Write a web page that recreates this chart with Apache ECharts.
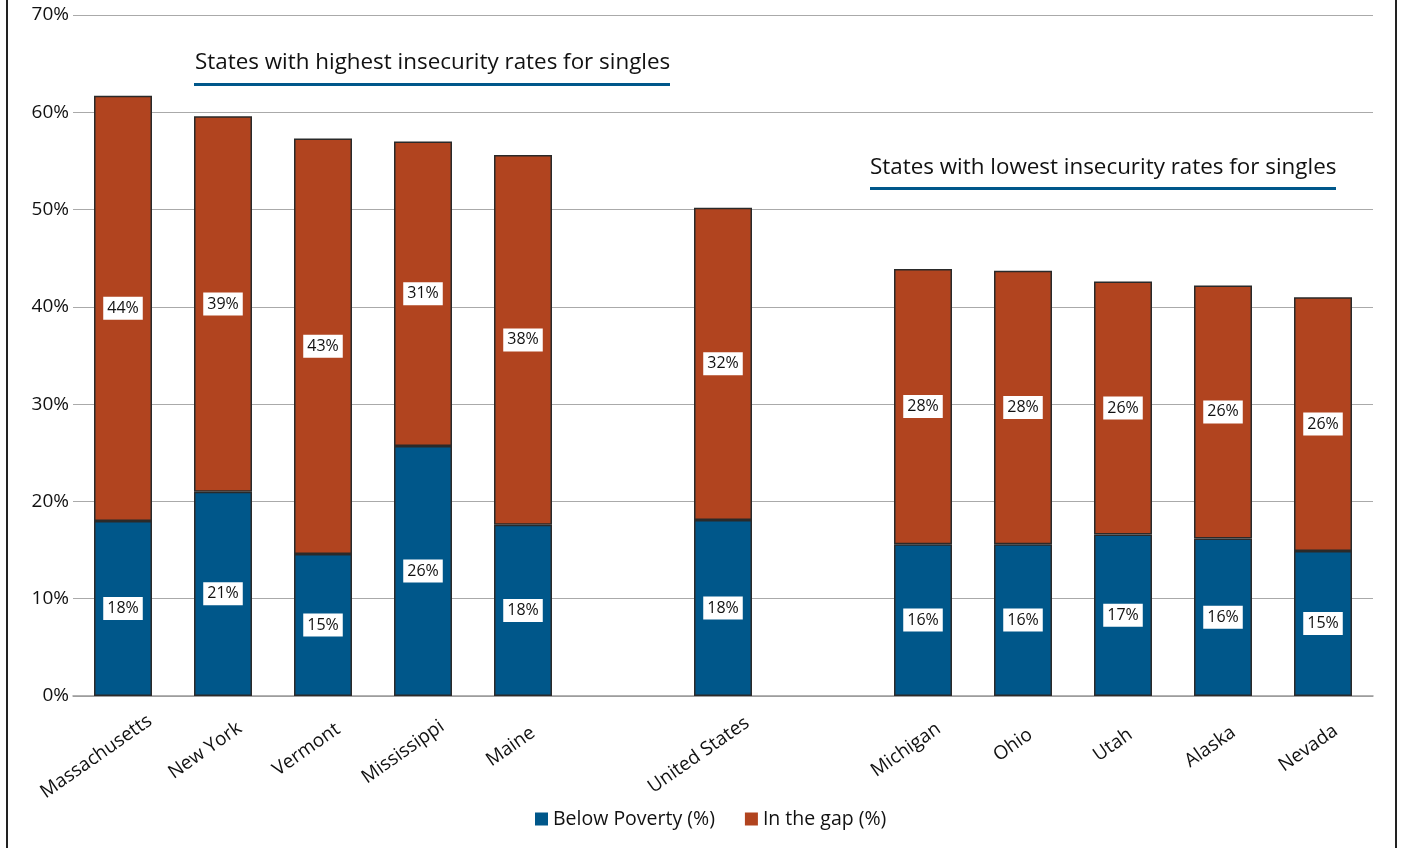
<!DOCTYPE html>
<html>
<head>
<meta charset="utf-8">
<script src="https://cdn.jsdelivr.net/npm/echarts@6/dist/echarts.min.js"></script>
<style>
html,body{margin:0;padding:0;background:#fff;}
#chart{width:1401px;height:848px;}
</style>
</head>
<body>
<div id="chart"></div>
<script>
const categories = ['Massachusetts','New York','Vermont','Mississippi','Maine','','United States','','Michigan','Ohio','Utah','Alaska','Nevada'];
const belowPoverty = [18.0, 21.0, 14.6, 25.7, 17.6, null, 18.1, null, 15.6, 15.6, 16.6, 16.2, 14.9];
const inTheGap = [43.7, 38.6, 42.7, 31.3, 38.0, null, 32.1, null, 28.3, 28.1, 26.0, 26.0, 26.1];
const yTicks = [0, 10, 20, 30, 40, 50, 60, 70];
const seriesNames = ['Below Poverty (%)', 'In the gap (%)'];
const groupTitles = ['States with highest insecurity rates for singles', 'States with lowest insecurity rates for singles'];

const FONT = 'Open Sans';
const BLUE = '#00578a';
const ORANGE = '#b1441f';
const X_FONT_SIZE = 19;

// Spreadsheet-style rotated labels: longer labels sit further along their own direction
const ctx = document.createElement('canvas').getContext('2d');
ctx.font = X_FONT_SIZE + 'px "' + FONT + '"';
const xAxisData = categories.map(c => {
  const w = ctx.measureText(c).width;
  const shift = Math.max(0, 0.27 * w - 2.4);
  return {value: c, textStyle: {padding: [0, -shift, 0, 0]}};
});

const chart = echarts.init(document.getElementById('chart'));
const labelCfg = {
  show: true,
  position: 'inside',
  formatter: p => (p.value == null ? '' : Math.round(p.value) + '%'),
  backgroundColor: '#fff',
  color: '#111',
  fontFamily: FONT,
  fontSize: 16,
  lineHeight: 18,
  padding: [3, 4, 2, 4]
};
chart.setOption({
  animation: false,
  textStyle: {fontFamily: FONT},
  grid: {left: 73, right: 28, top: 15, bottom: 152, containLabel: false},
  xAxis: {
    type: 'category',
    data: xAxisData,
    axisLine: {lineStyle: {color: '#999', width: 1.5}},
    axisTick: {show: false},
    axisLabel: {interval: 0, rotate: 35, color: '#111', fontSize: X_FONT_SIZE, fontFamily: FONT, margin: 42}
  },
  yAxis: {
    type: 'value',
    min: yTicks[0], max: yTicks[yTicks.length - 1], interval: 10,
    axisLine: {show: false},
    axisTick: {show: false},
    splitLine: {lineStyle: {color: '#aaa', width: 1}},
    axisLabel: {formatter: '{value}%', color: '#111', fontSize: 19, fontFamily: FONT, margin: 4}
  },
  legend: {
    bottom: 14, left: 530,
    itemWidth: 13, itemHeight: 13, itemGap: 30,
    icon: 'rect',
    itemStyle: {borderWidth: 0},
    textStyle: {fontSize: 19.5, color: '#111', fontFamily: FONT},
    data: seriesNames
  },
  series: [
    {name: seriesNames[0], type: 'bar', stack: 't', data: belowPoverty, barWidth: 58,
     itemStyle: {color: BLUE, borderColor: '#2a2a2a', borderWidth: 1.5}, label: labelCfg},
    {name: seriesNames[1], type: 'bar', stack: 't', data: inTheGap, barWidth: 58,
     itemStyle: {color: ORANGE, borderColor: '#2a2a2a', borderWidth: 1.5}, label: labelCfg}
  ],
  graphic: [
    {type: 'rect', shape: {x: 6, y: 0, width: 2, height: 848}, style: {fill: '#222'}, silent: true},
    {type: 'rect', shape: {x: 1395, y: 0, width: 2, height: 848}, style: {fill: '#222'}, silent: true},
    {type: 'text', x: 195, y: 63, style: {text: groupTitles[0], font: '22.4px "Open Sans"', fill: '#111', verticalAlign: 'middle'}},
    {type: 'rect', shape: {x: 194, y: 83, width: 476, height: 3}, style: {fill: BLUE}},
    {type: 'text', x: 870, y: 168, style: {text: groupTitles[1], font: '22.4px "Open Sans"', fill: '#111', verticalAlign: 'middle'}},
    {type: 'rect', shape: {x: 870, y: 187, width: 466, height: 3}, style: {fill: BLUE}}
  ]
});
</script>
</body>
</html>
